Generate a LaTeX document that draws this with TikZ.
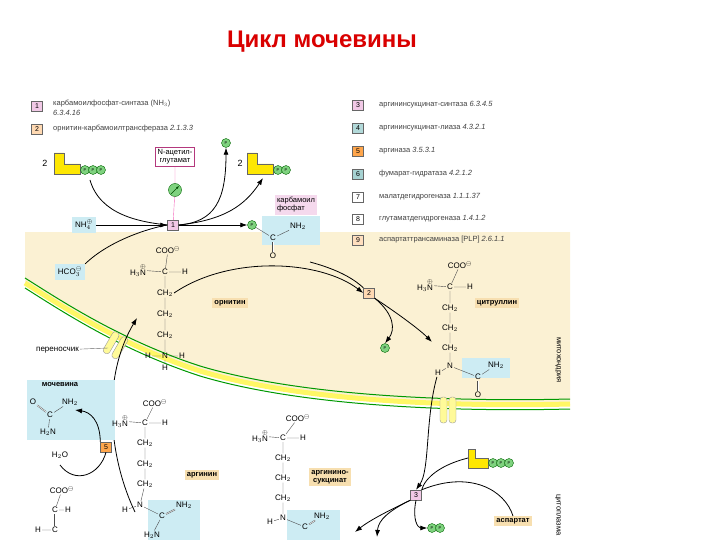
\documentclass[tikz,border=0pt]{standalone}
\usepackage{amsmath}
\usepackage{fontspec}
\setmainfont{Liberation Sans}
\usetikzlibrary{arrows.meta}
\definecolor{mito}{HTML}{FBF1D3}
\definecolor{blu}{HTML}{CDECF3}
\definecolor{grn}{HTML}{7FD27F}
\definecolor{lab}{HTML}{F7DFB0}
\definecolor{pnk}{HTML}{F1C9E6}
\newcommand{\HtN}{H$_3\overset{\oplus}{\mathrm{N}}$}
\begin{document}
\begin{tikzpicture}[x=1pt,y=-1pt,
 t/.style={font=\fontsize{8}{9}\selectfont,inner sep=1pt},
 leg/.style={font=\fontsize{7.5}{8}\selectfont,anchor=west,inner sep=1pt,text=black!75},
 ebox/.style={draw=black!60,minimum width=11pt,minimum height=10pt,inner sep=0pt,font=\fontsize{7}{8}\selectfont},
 pc/.style={circle,draw=green!40!black,fill=grn,inner sep=0pt,minimum size=9pt,font=\fontsize{4}{4}\selectfont},
 lbl/.style={fill=lab,font=\fontsize{7.5}{8}\selectfont\bfseries,inner sep=2pt},
 arr/.style={-{Latex[length=7pt,width=5pt]},thick},
 bond/.style={black!70}]
\useasboundingbox (0,0) rectangle (720,540);
\node[font=\fontsize{24}{28}\selectfont\bfseries,text=red!85!black] (title) at (322,42) {Цикл мочевины};
% mitochondrion
\fill[mito] (25,232) -- (570,232) -- (570,405) .. controls (450,408) and (300,400) .. (200,372) .. controls (120,345) and (60,305) .. (25,282) -- cycle;
\draw[green!60!black,line width=1pt] (25,278) .. controls (60,300) and (120,340) .. (200,366) .. controls (300,396) and (450,402) .. (570,399);
\draw[yellow!60,line width=5pt] (25,283) .. controls (60,305) and (120,345) .. (200,371) .. controls (300,401) and (450,407) .. (570,404);
\draw[green!60!black,line width=1pt] (25,288) .. controls (60,310) and (120,350) .. (200,376) .. controls (300,406) and (450,412) .. (570,409);
% legend
\node[ebox,fill=pnk] (l1) at (37,106) {1};
\node[leg] (t1) at (52,104) {карбамоилфосфат-синтаза (NH$_3$)};
\node[leg,font=\fontsize{7.5}{8}\selectfont\itshape] (t1b) at (52,113) {6.3.4.16};
\node[ebox,fill=orange!30] (l2) at (37,129) {2};
\node[leg] (t2) at (52,129) {орнитин-карбамоилтрансфераза \textit{2.1.3.3}};
\node[ebox,fill=pnk] (l3) at (358,105) {3};
\node[leg] at (378,105) {аргининсукцинат-синтаза \textit{6.3.4.5}};
\node[ebox,fill=teal!30] (l4) at (358,128) {4};
\node[leg] at (378,128) {аргининсукцинат-лиаза \textit{4.3.2.1}};
\node[ebox,fill=orange!70] (l5) at (358,151) {5};
\node[leg] at (378,151) {аргиназа \textit{3.5.3.1}};
\node[ebox,fill=teal!35] (l6) at (358,174) {6};
\node[leg] at (378,174) {фумарат-гидратаза \textit{4.2.1.2}};
\node[ebox,fill=white] (l7) at (358,197) {7};
\node[leg] at (378,197) {малатдегидрогеназа \textit{1.1.1.37}};
\node[ebox,fill=white] (l8) at (358,219) {8};
\node[leg] at (378,219) {глутаматдегидрогеназа \textit{1.4.1.2}};
\node[ebox,fill=orange!25] (l9) at (358,240) {9};
\node[leg] at (378,240) {аспартаттрансаминаза [PLP] \textit{2.6.1.1}};
% ATP left
\node[t,font=\fontsize{9}{9}\selectfont] (two1) at (45,163) {2};
\fill[yellow!90!orange,draw=black!60] (54,153) -- (64,153) -- (64,164) -- (80,164) -- (80,174) -- (54,174) -- cycle;
\node[pc] (a1) at (85,170) {P};\node[pc] (a2) at (93,170) {P};\node[pc] (a3) at (101,170) {P};
% ADP right
\node[t,font=\fontsize{9}{9}\selectfont] (two2) at (240,163) {2};
\fill[yellow!90!orange,draw=black!60] (247,153) -- (257,153) -- (257,164) -- (273,164) -- (273,174) -- (247,174) -- cycle;
\node[pc] (d1) at (278,170) {P};\node[pc] (d2) at (286,170) {P};
% N-acetylglutamate
\node[draw=magenta!70!black,fill=white,align=center,font=\fontsize{7.5}{8}\selectfont,inner sep=2pt] (nag) at (175,157) {N-ацетил-\\глутамат};
\node[pc,minimum size=13pt] (act) at (175,190) {};
\draw[-{Latex[length=3pt]},green!30!black] (171,194) -- (179,186);
\node[ebox,fill=pnk] (e1) at (173,225) {1};
\draw[magenta!60] (nag) -- (act) (act) -- (e1);
\node[pc] (p1) at (226,143) {P};
\node[fill=blu,font=\fontsize{8}{9}\selectfont,inner sep=3pt] (nh4) at (84,225) {NH$_4^{\oplus}$};
\node[fill=blu,font=\fontsize{8}{9}\selectfont,inner sep=3pt] (hco) at (70,272) {HCO$_3^{\ominus}$};
\draw[arr] (nh4) -- (e1);
\draw[thick] (90,180) .. controls (100,215) and (140,222) .. (e1.west);
\draw[thick] (hco.north east) .. controls (110,240) and (150,228) .. (e1.west);
\draw[arr] (e1.east) .. controls (215,222) and (226,200) .. (p1.south);
\draw[arr] (e1.east) .. controls (225,220) and (245,205) .. (263,178);
% carbamoyl phosphate
\fill[blu] (262,216) rectangle (320,245);
\node[fill=pnk!70,align=left,font=\fontsize{7.5}{8}\selectfont,inner sep=2pt] (cpl) at (296,205) {карбамоил\\фосфат};
\node[pc] (p2) at (252,225) {P};
\draw[arr] (e1.east) -- (p2.west);
\node[t] (cc) at (273,238) {C};\node[t] (cnh) at (298,226) {NH$_2$};\node[t] (co) at (273,256) {O};
\draw[bond] (p2) -- (cc) (cc) -- (cnh);\draw[bond,double] (cc) -- (co);
% ornithine
\node[t] (ocoo) at (168,250) {COO$^{\ominus}$};
\node[t] (on) at (138,270) {\HtN};\node[t] (oc) at (165,272) {C};\node[t] (oh) at (185,272) {H};
\node[t] (o1) at (165,293) {CH$_2$};\node[t] (o2) at (165,314) {CH$_2$};\node[t] (o3) at (165,335) {CH$_2$};
\node[t] (onn) at (165,356) {N};\node[t] (onh1) at (148,356) {H};\node[t] (onh2) at (182,356) {H};\node[t] (onh3) at (165,368) {H};
\draw[bond] (ocoo)--(oc) (on)--(oc) (oc)--(oh) (oc)--(o1) (o1)--(o2) (o2)--(o3) (o3)--(onn) (onh1)--(onn) (onn)--(onh2) (onn)--(onh3);
\node[lbl] (orn) at (230,303) {орнитин};
% enzyme 2
\node[ebox,fill=orange!30] (e2) at (369,293) {2};
\draw[thick] (310,262) .. controls (340,270) and (355,280) .. (e2);
\draw[arr] (o1.east) .. controls (230,255) and (320,260) .. (e2.west);
\node[pc] (p3) at (385,348) {P};
\draw[arr] (e2.south east) .. controls (395,315) and (395,330) .. (p3.north);
\draw[arr] (e2.south east) .. controls (400,315) and (420,330) .. (432,342);
% citrulline
\fill[blu] (462,358) rectangle (510,378);
\node[t] (ccoo) at (460,265) {COO$^{\ominus}$};
\node[t] (cn) at (425,285) {\HtN};\node[t] (ccc) at (450,287) {C};\node[t] (ch) at (470,287) {H};
\node[t] (c1) at (450,308) {CH$_2$};\node[t] (c2) at (450,328) {CH$_2$};\node[t] (c3) at (450,348) {CH$_2$};
\node[t] (cnn) at (450,366) {N};\node[t] (cnh1) at (438,373) {H};\node[t] (cc2) at (478,377) {C};\node[t] (cnh2) at (496,365) {NH$_2$};\node[t] (co2) at (478,395) {O};
\draw[bond] (ccoo)--(ccc) (cn)--(ccc) (ccc)--(ch) (ccc)--(c1) (c1)--(c2) (c2)--(c3) (c3)--(cnn) (cnh1)--(cnn) (cnn)--(cc2) (cc2)--(cnh2);\draw[bond,double] (cc2)--(co2);
\node[lbl] (cit) at (497,303) {цитруллин};
\node[t,rotate=-90,font=\fontsize{7.5}{8}\selectfont] (mt) at (558,360) {митохондрия};
\node[t,rotate=-90,font=\fontsize{7.5}{8}\selectfont] (cy) at (558,515) {цитоплазма};
% transporters
\draw[fill=yellow!40,draw=black!40,rounded corners=3pt,rotate around={-30:(115,345)}] (107,333) rectangle (114,357) (117,333) rectangle (124,357);
\draw[fill=yellow!40,draw=black!40,rounded corners=3pt] (440,397) rectangle (447,423) (449,397) rectangle (456,423);
\node[t,anchor=east] (per) at (80,350) {переносчик};
\coordinate (tr) at (108,348);
\draw[black!60] (per) -- (tr);
% enzyme 3
\node[ebox,fill=pnk] (e3) at (416,495) {3};
% arrows around
\draw[arr] (135,512) .. controls (110,460) and (100,380) .. (137,318);
\draw[arr] (cnh1) .. controls (425,420) and (430,470) .. (e3.north);
% urea
\fill[blu] (27,380) rectangle (115,440);
\node[t,font=\fontsize{7.5}{8}\selectfont\bfseries] (ur) at (60,385) {мочевина};
\node[t] (uc) at (50,415) {C};\node[t] (uo) at (33,402) {O};\node[t] (unh) at (70,402) {NH$_2$};\node[t] (un) at (48,432) {H$_2$N};
\draw[bond,double] (uo)--(uc);\draw[bond] (uc)--(unh) (uc)--(un);
\node[ebox,fill=orange!70] (e5) at (106,447) {5};
\draw[arr] (e5.north west) .. controls (100,420) and (90,412) .. (75,410);
\node[t] (h2o) at (60,455) {H$_2$O};
\draw[thick] (60,465) .. controls (75,485) and (100,475) .. (e5.south);
% fumarate
\node[t] (fcoo) at (62,490) {COO$^{\ominus}$};\node[t] (fc1) at (55,510) {C};\node[t] (fh1) at (68,510) {H};\node[t] (fc2) at (55,530) {C};\node[t] (fh2) at (38,530) {H};
\draw[bond] (fcoo)--(fc1) (fc1)--(fh1) (fc2)--(fh2);\draw[bond,double] (fc1)--(fc2);
% arginine
\fill[blu] (148,500) rectangle (200,540);
\node[t] (acoo) at (155,403) {COO$^{\ominus}$};
\node[t] (an) at (120,421) {\HtN};\node[t] (ac) at (145,423) {C};\node[t] (ah) at (165,423) {H};
\node[t] (a1c) at (145,443) {CH$_2$};\node[t] (a2c) at (145,464) {CH$_2$};\node[t] (a3c) at (145,484) {CH$_2$};
\node[t] (ann) at (140,505) {N};\node[t] (anh) at (125,510) {H};\node[t] (acc) at (162,516) {C};\node[t] (anh2) at (184,505) {NH$_2$};\node[t] (an2) at (152,535) {H$_2$N};
\draw[bond] (acoo)--(ac) (an)--(ac) (ac)--(ah) (ac)--(a1c) (a1c)--(a2c) (a2c)--(a3c) (a3c)--(ann) (anh)--(ann) (ann)--(acc) (acc)--(an2);\draw[bond,double] (acc)--(anh2);
\node[lbl] (arg) at (202,475) {аргинин};
% argininosuccinate
\fill[blu] (287,510) rectangle (340,540);
\node[t] (scoo) at (298,418) {COO$^{\ominus}$};
\node[t] (sn) at (260,436) {\HtN};\node[t] (sc) at (283,438) {C};\node[t] (sh) at (303,438) {H};
\node[t] (s1) at (283,458) {CH$_2$};\node[t] (s2) at (283,478) {CH$_2$};\node[t] (s3) at (283,498) {CH$_2$};
\node[t] (snn) at (283,518) {N};\node[t] (snh) at (270,522) {H};\node[t] (scc) at (305,527) {C};\node[t] (snh2) at (322,516) {NH$_2$};
\draw[bond] (scoo)--(sc) (sn)--(sc) (sc)--(sh) (sc)--(s1) (s1)--(s2) (s2)--(s3) (s3)--(snn) (snh)--(snn) (snn)--(scc);\draw[bond,double] (scc)--(snh2);
\node[lbl,align=center,font=\fontsize{7.5}{8}\selectfont\bfseries] (ags) at (330,477) {аргинино-\\сукцинат};
\fill[yellow!90!orange,draw=black!60] (468,449) -- (475,449) -- (475,458) -- (488,458) -- (488,468) -- (468,468) -- cycle;
\node[pc] (b1) at (493,463) {P};\node[pc] (b2) at (501,463) {P};\node[pc] (b3) at (509,463) {P};
\node[lbl] (asp) at (513,521) {аспартат};
\node[pc] (pp1) at (432,528) {P};\node[pc] (pp2) at (440,528) {P};
\draw[thick] (468,458) .. controls (440,465) and (425,478) .. (e3.north east);
\draw[thick] (asp.north) .. controls (505,490) and (470,470) .. (e3.north east);
\draw[arr] (e3.south west) .. controls (390,510) and (370,520) .. (355,532);
\draw[arr] (e3.south west) .. controls (380,515) and (378,525) .. (377,537);
\draw[arr] (e3.south) .. controls (412,520) and (418,528) .. (pp1.west);
\end{tikzpicture}
\end{document}
